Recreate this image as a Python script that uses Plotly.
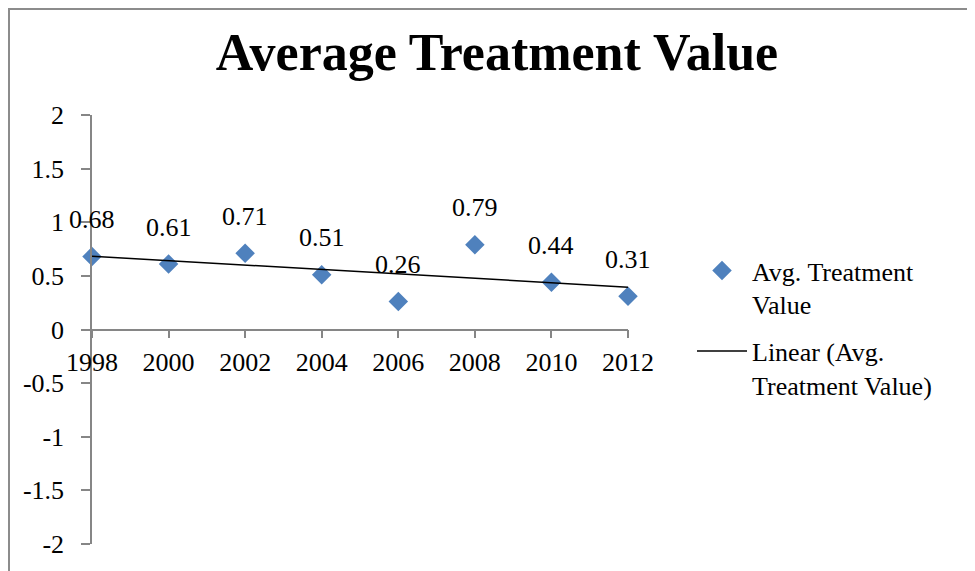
import numpy as np
import plotly.graph_objects as go

years = [1998, 2000, 2002, 2004, 2006, 2008, 2010, 2012]
values = [0.68, 0.61, 0.71, 0.51, 0.26, 0.79, 0.44, 0.31]
y_ticks = [-2, -1.5, -1, -0.5, 0, 0.5, 1, 1.5, 2]
title_text = "Average Treatment Value"
series_name = "Avg. Treatment<br>Value"
trend_name = "Linear (Avg.<br>Treatment Value)"

slope, intercept = np.polyfit(years, values, 1)
trend = [slope * x + intercept for x in years]

FONT = "Liberation Serif"
AXIS_COLOR = "#868686"
W, H = 967, 563   # page body has an 8px margin
L, R, T, B = 84, 347, 107, 27
PW, PH = W - L - R, H - T - B

fig = go.Figure()
fig.add_trace(go.Scatter(
    x=years, y=values, mode="markers", name=series_name, legendgroup="a",
    marker=dict(symbol="diamond", size=15, color="#4F81BD"),
    cliponaxis=False,
))
fig.add_trace(go.Scatter(
    x=years, y=trend, mode="lines", name=trend_name, legendgroup="b",
    line=dict(color="black", width=1.5),
    cliponaxis=False,
))

for x, v in zip(years, values):
    fig.add_annotation(x=x, y=v, text=f"{v:.2f}", showarrow=False,
                       xanchor="center", yanchor="middle", yshift=37,
                       font=dict(family=FONT, size=26, color="black"))

fig.update_layout(
    width=W, height=H,
    margin=dict(l=L, r=R, t=T, b=B),
    paper_bgcolor="white", plot_bgcolor="white",
    font=dict(family=FONT, size=26, color="black"),
    title=dict(text="<b>" + title_text + "</b>", font=dict(family=FONT, size=52, color="black"),
               xref="container", x=489 / W, xanchor="center",
               yref="container", y=1 - 44 / H, yanchor="middle"),
    xaxis=dict(range=[1998, 2012], tickvals=years, ticktext=[str(y) for y in years],
               showgrid=False, zeroline=False, showline=True, linecolor=AXIS_COLOR, linewidth=1.5,
               ticks="outside", ticklen=8, tickcolor=AXIS_COLOR, tickwidth=1.5,
               anchor="free", position=0.5, ticklabelstandoff=2),
    yaxis=dict(range=[-2, 2], tickvals=y_ticks, ticktext=[f"{t:g}" for t in y_ticks],
               showgrid=False, zeroline=False, showline=True, linecolor=AXIS_COLOR, linewidth=1.5,
               ticks="outside", ticklen=9, tickcolor=AXIS_COLOR, tickwidth=1.5,
               ticklabelstandoff=12),
    legend=dict(xref="container", yref="container", x=684 / W, y=1 - 239 / H,
                xanchor="left", yanchor="top", valign="top", itemwidth=50,
                font=dict(family=FONT, size=26, color="black"),
                bgcolor="rgba(0,0,0,0)", tracegroupgap=10),
    showlegend=True,
)

fig.add_shape(type="rect", xref="paper", yref="paper",
              x0=(1 - L) / PW, x1=(1100 - L) / PW,
              y0=(H - B - 700) / PH, y1=(H - B - 1) / PH,
              line=dict(color="#8c8c8c", width=2), fillcolor="rgba(0,0,0,0)", layer="below")

fig.write_html("out.html")
